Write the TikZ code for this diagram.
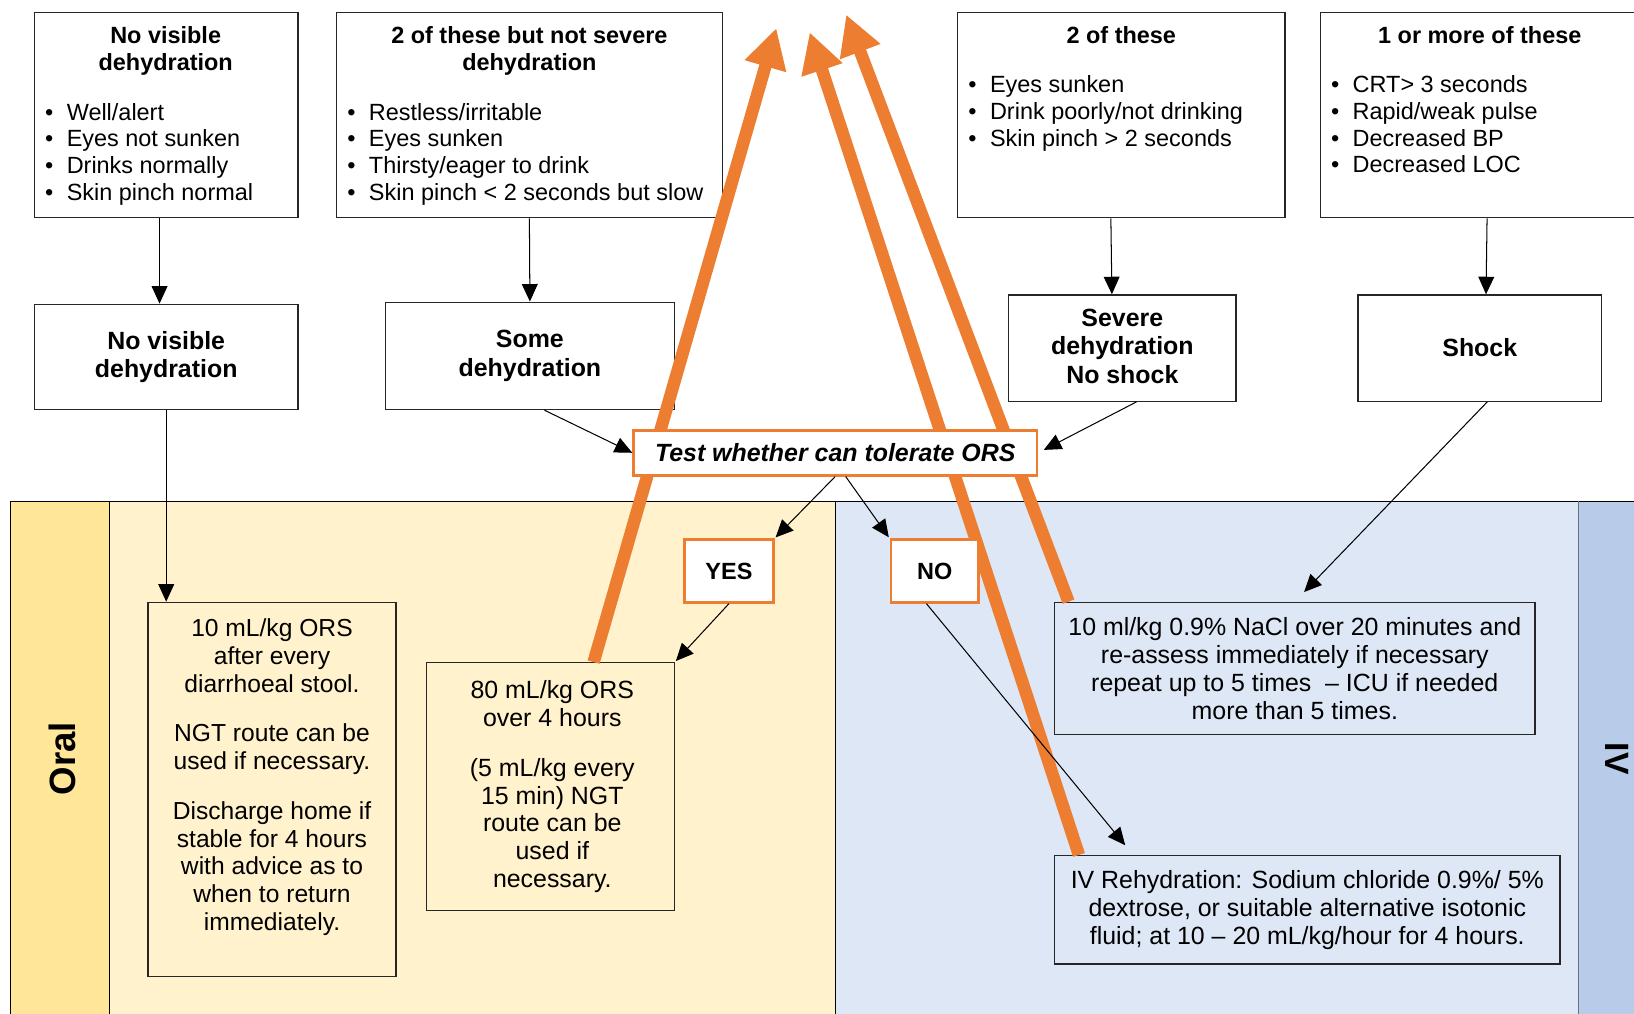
\documentclass[tikz,border=0pt]{standalone}
\usepackage{fontspec}
\setmainfont{Liberation Sans}
\usetikzlibrary{arrows.meta,fit}

\definecolor{oralstrip}{HTML}{FFE699}
\definecolor{orallane}{HTML}{FFF2CC}
\definecolor{ivlane}{HTML}{DDE7F5}
\definecolor{ivstrip}{HTML}{B8CCE9}
\definecolor{orsorange}{HTML}{ED7D31}

\newcommand{\bul}{\makebox[0.52cm][l]{\textbullet}}

\tikzset{
	box/.style={draw=black!85, line width=0.9pt, fill=white, inner sep=0pt},
	orsbox/.style={draw=orsorange, line width=1.8pt, fill=white, inner sep=0pt},
	body/.style={font=\fontsize{17}{19}\selectfont, align=center, inner sep=0pt},
	heading/.style={font=\bfseries\fontsize{17}{19.2}\selectfont, align=center, inner sep=0pt},
	answer/.style={font=\bfseries\fontsize{16}{19}\selectfont, inner sep=0pt},
	title/.style={font=\bfseries\fontsize{16}{18.5}\selectfont, align=center, anchor=north, inner sep=0pt},
	items/.style={font=\fontsize{16}{18.2}\selectfont, align=left, anchor=north west, inner sep=0pt},
	lanelabel/.style={font=\bfseries\fontsize{25}{30}\selectfont, inner sep=0pt},
	lane/.style={line width=0.8pt},
	flow/.style={-{Triangle[length=0.42cm,width=0.38cm]}, line width=0.7pt},
	back/.style={-{Triangle[length=0.95cm,width=0.97cm]}, line width=8.5pt, draw=orsorange},
}

\begin{document}
\begin{tikzpicture}[x=0.025cm, y=-0.025cm]
		\useasboundingbox (0,0) rectangle (1568,973);
		\clip (0,0) rectangle (1568,973);
		
		% Swim lanes
		\fill[oralstrip] (10,481) rectangle (105,990);
		\fill[orallane] (105,481) rectangle (802,990);
		\fill[ivlane] (802,481) rectangle (1515,990);
		\fill[ivstrip] (1515,481) rectangle (1580,990);
		\draw[lane] (10,990) -- (10,481) -- (1580,481);
		\draw[lane] (105,481) -- (105,990);
		\draw[lane] (802,481) -- (802,990);
		\draw[lane, draw=ivstrip!55!black] (1515,481) -- (1515,990);
		\node[lanelabel, rotate=90] (oral) at (60,728) {Oral};
		\node[lanelabel, font=\bfseries\fontsize{23}{28}\selectfont, rotate=-90] (iv) at (1552,728) {IV};
		
		% Assessment boxes
		\node[box, fit={(33,12) (286,209)}] (crit1) {};
		\node[box, fit={(323,12) (693,209)}] (crit2) {};
		\node[box, fit={(919,12) (1233,209)}] (crit3) {};
		\node[box, fit={(1267,12) (1575,209)}] (crit4) {};
		\node[title] (crit1title) at (159,23) {\strut No visible\\dehydration};
		\node[title] (crit2title) at (508,23) {\strut 2 of these but not severe\\dehydration};
		\node[title] (crit3title) at (1076,23) {\strut 2 of these};
		\node[title] (crit4title) at (1420,23) {\strut 1 or more of these};
		\node[items] (crit1list) at (43,97) {\strut\bul Well/alert\\\bul Eyes not sunken\\\bul Drinks normally\\\bul Skin pinch normal};
		\node[items] (crit2list) at (333,97) {\strut\bul Restless/irritable\\\bul Eyes sunken\\\bul Thirsty/eager to drink\\\bul Skin pinch < 2 seconds but slow};
		\node[items] (crit3list) at (929,71) {\strut\bul Eyes sunken\\\bul Drink poorly/not drinking\\\bul Skin pinch > 2 seconds};
		\node[items] (crit4list) at (1277,71) {\strut\bul CRT> 3 seconds\\\bul Rapid/weak pulse\\\bul Decreased BP\\\bul Decreased LOC};
		
		% Diagnosis boxes
		\node[box, fit={(33,292) (286,393)}] (dx1) {};
		\node[box, fit={(370,290) (647,393)}] (dx2) {};
		\node[box, fit={(968,283) (1186,385)}] (dx3) {};
		\node[box, fit={(1303,283) (1537,385)}] (dx4) {};
		\node[heading] (dx1text) at (dx1) {No visible\\dehydration};
		\node[heading] (dx2text) at (dx2) {Some\\dehydration};
		\node[heading] (dx3text) at ([yshift=0.04cm]dx3) {Severe\\dehydration\\No shock};
		\node[heading] (dx4text) at (dx4) {Shock};
		
		% Treatment boxes
		\node[box, fill=orallane, fit={(142,578) (380,937)}] (o1) {};
		\node[box, fill=orallane, fit={(409,636) (647,874)}] (o2) {};
		\node[box, fill=ivlane, fit={(1012,578) (1473,705)}] (i1) {};
		\node[box, fill=ivlane, fit={(1012,821) (1497,925)}] (i2) {};
		\node[body, font=\fontsize{16.8}{19}\selectfont, anchor=north] (o1text) at (261,592) {\strut 10 mL/kg ORS\\after every\\diarrhoeal stool.\\[0.52cm] NGT route can be\\used if necessary.\\[0.52cm] Discharge home if\\stable for 4 hours\\with advice as to\\when to return\\immediately.};
		\node[body] (o2text) at ([xshift=0.05cm]o2) {80 mL/kg ORS\\over 4 hours\\[0.52cm] (5 mL/kg every\\15 min) NGT\\route can be\\used if\\necessary.};
		\node[body] (i1text) at (i1) {10 ml/kg 0.9\% NaCl over 20 minutes and\\re-assess immediately if necessary\\repeat up to 5 times\ \ -- ICU if needed\\more than 5 times.};
		\node[body] (i2text) at (i2) {IV Rehydration: Sodium chloride 0.9\%/ 5\%\\dextrose, or suitable alternative isotonic\\fluid; at 10 -- 20 mL/kg/hour for 4 hours.};
		
		% Re-assessment arrows
		\coordinate (top1) at (745,27);
		\coordinate (top2) at (777,31);
		\coordinate (top3) at (812,14);
		\draw[back] ([xshift=4.03cm]o2.north west) -- (top1);
		\draw[back] ([xshift=0.6cm]i2.north west) -- (top2);
		\draw[back] ([xshift=0.35cm]i1.north west) -- (top3);
		
		% ORS test and answers
		\node[orsbox, fit={(608,413) (995,456)}] (test) {};
		\node[orsbox, fit={(657,518) (742,578)}] (yes) {};
		\node[orsbox, fit={(855,518) (939,578)}] (no) {};
		\node[font=\bfseries\itshape\fontsize{17}{20}\selectfont, inner sep=0pt] (testtext) at (test) {Test whether can tolerate ORS};
		\node[answer] (yestext) at (yes) {YES};
		\node[answer] (notext) at (no) {NO};
		
		% Flow arrows
		\draw[flow] ([xshift=-0.16cm]crit1.south) -- ([xshift=-0.16cm]dx1.north);
		\draw[flow] (crit2.south) -- (dx2.north);
		\draw[flow] ([xshift=-0.25cm]crit3.south) -- ([xshift=-0.25cm]dx3.north);
		\draw[flow] ([xshift=0.15cm]crit4.south) -- ([xshift=0.15cm]dx4.north);
		\draw[flow] (dx1.south) -- (dx1.south |- o1.north);
		\draw[flow] ([xshift=0.35cm]dx2.south) -- (test.west);
		\draw[flow, shorten >=0.15cm] ([xshift=0.34cm]dx3.south) -- (test.east);
		\draw[flow, shorten >=0.32cm] ([xshift=0.18cm]dx4.south) -- (i1.north);
		\draw[flow, shorten >=1pt] (test.south) -- (yes.north east);
		\draw[flow, shorten >=1pt] ([xshift=0.25cm]test.south) -- (no.north west);
		\draw[flow, shorten >=1pt] (yes.south) -- (o2.north east);
		\draw[flow, shorten >=0.3cm] ([xshift=-0.2cm]no.south) -- ([xshift=1.9cm]i2.north west);
		
	\end{tikzpicture}
\end{document}
